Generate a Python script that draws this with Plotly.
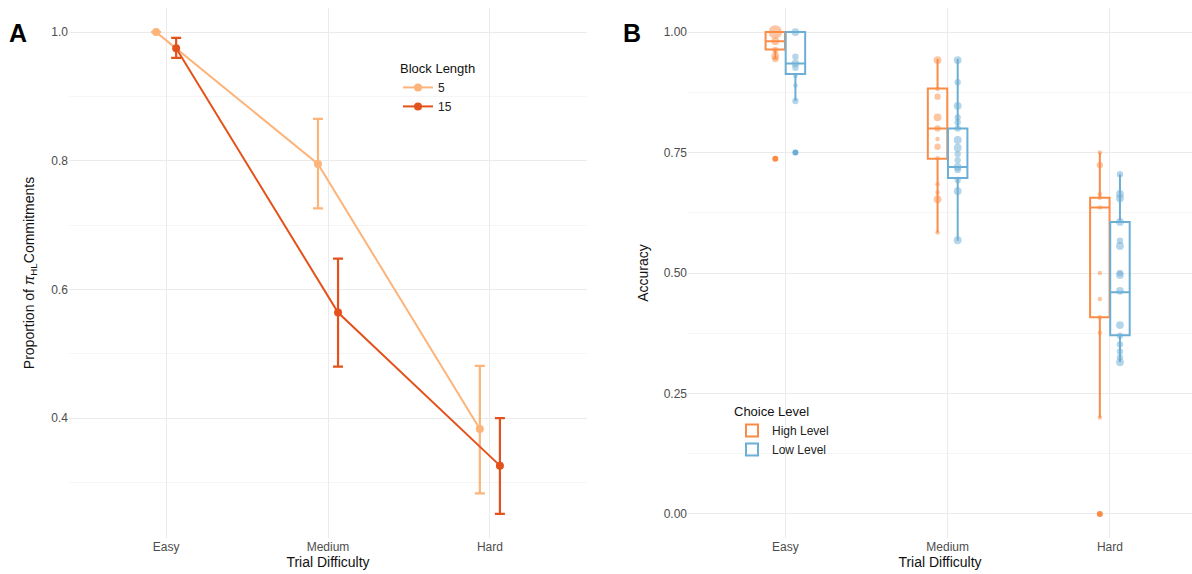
import plotly.graph_objects as go
import numpy as np

# ---------------- data ----------------
categories = ["Easy", "Medium", "Hard"]

# Panel A: proportion of pi_HL commitments by block length
block_lengths = ["5", "15"]
prop_5 = [1.000, 0.795, 0.383]
prop_5_lo = [1.000, 0.726, 0.283]
prop_5_hi = [1.000, 0.865, 0.481]
prop_15 = [0.975, 0.564, 0.326]
prop_15_lo = [0.960, 0.480, 0.251]
prop_15_hi = [0.991, 0.648, 0.400]

# Panel B: accuracy box statistics by choice level
choice_levels = ["High Level", "Low Level"]
high_q1 = [0.964, 0.737, 0.408]
high_med = [0.981, 0.800, 0.636]
high_q3 = [1.000, 0.883, 0.656]
high_lo = [0.944, 0.584, 0.200]
high_hi = [1.000, 0.944, 0.750]
high_outliers = [[0.737], [], [0.0]]

low_q1 = [0.913, 0.697, 0.371]
low_med = [0.935, 0.720, 0.460]
low_q3 = [1.000, 0.800, 0.606]
low_lo = [0.857, 0.567, 0.315]
low_hi = [1.000, 0.944, 0.705]
low_outliers = [[0.75], [], []]

# individual participant accuracies (value, count of overlapping participants)
high_points = [
    [(1.0, 9), (0.981, 3), (0.963, 2), (0.950, 3), (0.944, 2)],
    [(0.942, 3), (0.882, 1), (0.866, 2), (0.823, 3), (0.800, 2), (0.778, 1),
     (0.762, 2), (0.738, 1), (0.684, 1), (0.667, 1), (0.653, 3), (0.584, 1)],
    [(0.750, 1), (0.724, 2), (0.664, 1), (0.656, 1), (0.636, 1), (0.500, 1),
     (0.446, 1), (0.408, 1), (0.376, 1), (0.200, 1)],
]
low_points = [
    [(1.0, 3), (0.949, 2), (0.935, 3), (0.926, 2), (0.909, 1), (0.889, 1), (0.857, 2)],
    [(0.942, 3), (0.896, 2), (0.847, 3), (0.823, 2), (0.813, 2), (0.800, 2),
     (0.776, 3), (0.760, 3), (0.747, 2), (0.734, 2), (0.720, 3), (0.714, 2),
     (0.693, 2), (0.670, 3), (0.568, 3)],
    [(0.705, 2), (0.664, 3), (0.655, 3), (0.606, 3), (0.567, 2), (0.556, 3),
     (0.500, 2), (0.496, 3), (0.463, 3), (0.392, 3), (0.370, 2), (0.352, 2),
     (0.337, 2), (0.325, 2), (0.315, 3)],
]

# ---------------- styling ----------------
FONT = "Liberation Sans, Arial, Helvetica, sans-serif"
C5, C15 = "#FDB47A", "#E4521B"
CHIGH, CLOW = "#FB8C45", "#6BAED6"
GRID = "#ebebeb"
MINOR = "#f5f5f5"
W, H = 1192, 574

xpos = np.arange(1, len(categories) + 1, dtype=float)
dodge = 0.062

fig = go.Figure()

# ---------------- Panel A ----------------
for name, y, lo, hi, col, off in [
    (block_lengths[0], prop_5, prop_5_lo, prop_5_hi, C5, -dodge),
    (block_lengths[1], prop_15, prop_15_lo, prop_15_hi, C15, dodge),
]:
    y = np.array(y); lo = np.array(lo); hi = np.array(hi)
    fig.add_trace(go.Scatter(
        x=xpos + off, y=y, mode="lines+markers", name=name,
        line=dict(color=col, width=2), marker=dict(color=col, size=8),
        error_y=dict(type="data", symmetric=False, array=hi - y, arrayminus=y - lo,
                     color=col, thickness=2.2, width=5),
        xaxis="x", yaxis="y", legend="legend",
    ))

# ---------------- Panel B ----------------
for name, q1, med, q3, lo, hi, outl, pts, col, off in [
    (choice_levels[0], high_q1, high_med, high_q3, high_lo, high_hi, high_outliers, high_points, CHIGH, -dodge),
    (choice_levels[1], low_q1, low_med, low_q3, low_lo, low_hi, low_outliers, low_points, CLOW, dodge),
]:
    fig.add_trace(go.Box(
        x=xpos + off, q1=q1, median=med, q3=q3, lowerfence=lo, upperfence=hi,
        name=name, width=0.12, whiskerwidth=0, boxpoints=False,
        line=dict(color=col, width=2), fillcolor="rgba(255,255,255,0)",
        xaxis="x2", yaxis="y2", legend="legend2",
    ))
    # participant points
    px, py, ps = [], [], []
    for i, plist in enumerate(pts):
        for v, n in plist:
            px.append(xpos[i] + off); py.append(v); ps.append(4.5 * np.sqrt(n))
    fig.add_trace(go.Scatter(
        x=px, y=py, mode="markers", showlegend=False, hoverinfo="y",
        marker=dict(color=col, size=ps, opacity=0.5, line=dict(width=0)),
        xaxis="x2", yaxis="y2",
    ))
    # outliers
    ox, oy = [], []
    for i, ol in enumerate(outl):
        for v in ol:
            ox.append(xpos[i] + off); oy.append(v)
    fig.add_trace(go.Scatter(
        x=ox, y=oy, mode="markers", showlegend=False,
        marker=dict(color=col, size=6),
        xaxis="x2", yaxis="y2",
    ))

# ---------------- layout ----------------
tickfont = dict(family=FONT, size=12, color="#4d4d4d")
titlefont = dict(family=FONT, size=14, color="#111111")
ydom = [36 / H, 566 / H]

common_x = dict(tickvals=list(xpos), ticktext=categories, showgrid=True, gridcolor=GRID,
                gridwidth=1, zeroline=False, showline=False, ticks="", tickfont=tickfont,
                title=dict(text="Trial Difficulty", font=titlefont, standoff=4))
common_y = dict(showgrid=True, gridcolor=GRID, gridwidth=1, zeroline=False, showline=False,
                ticks="", tickfont=tickfont, domain=ydom)

fig.update_layout(
    width=W, height=H, margin=dict(l=0, r=0, t=0, b=0),
    paper_bgcolor="white", plot_bgcolor="white",
    font=dict(family=FONT),
    xaxis=dict(common_x, domain=[69 / W, 587 / W], range=[0.4, 3.6]),
    yaxis=dict(common_y, range=[0.2135, 1.0375], tickvals=[0.4, 0.6, 0.8, 1.0],
               ticktext=["0.4", "0.6", "0.8", "1.0"],
               minor=dict(tickvals=[0.3, 0.5, 0.7, 0.9], showgrid=True, gridcolor=MINOR, gridwidth=1),
               title=dict(text="Proportion of <i>π</i><sub>HL</sub>Commitments", font=titlefont, standoff=13)),
    xaxis2=dict(common_x, domain=[688 / W, 1.0], range=[0.4, 3.506], anchor="y2"),
    yaxis2=dict(common_y, range=[-0.05, 1.05], tickvals=[0, 0.25, 0.5, 0.75, 1.0],
                ticktext=["0.00", "0.25", "0.50", "0.75", "1.00"], anchor="x2",
                minor=dict(tickvals=[0.125, 0.375, 0.625, 0.875], showgrid=True, gridcolor=MINOR, gridwidth=1),
                title=dict(text="Accuracy", font=titlefont, standoff=11)),
    legend=dict(title=dict(text="Block Length", font=dict(family=FONT, size=13, color="#111")),
                font=dict(family=FONT, size=12, color="#222"),
                x=398 / W, y=1 - 56 / H, xanchor="left", yanchor="top",
                bgcolor="rgba(0,0,0,0)", tracegroupgap=0, itemwidth=30),
    legend2=dict(title=dict(text="Choice Level", font=dict(family=FONT, size=13, color="#111")),
                 font=dict(family=FONT, size=12, color="#222"),
                 x=732 / W, y=1 - 399 / H, xanchor="left", yanchor="top",
                 bgcolor="rgba(0,0,0,0)", tracegroupgap=0, itemwidth=30),
    showlegend=True,
    annotations=[
        dict(text="<b>A</b>", x=18 / W, y=1 - 33 / H, xref="paper", yref="paper",
             xanchor="center", yanchor="middle",
             showarrow=False, font=dict(family=FONT, size=25, color="black")),
        dict(text="<b>B</b>", x=632 / W, y=1 - 33 / H, xref="paper", yref="paper",
             xanchor="center", yanchor="middle",
             showarrow=False, font=dict(family=FONT, size=25, color="black")),
    ],
)

fig.write_html("out.html")
